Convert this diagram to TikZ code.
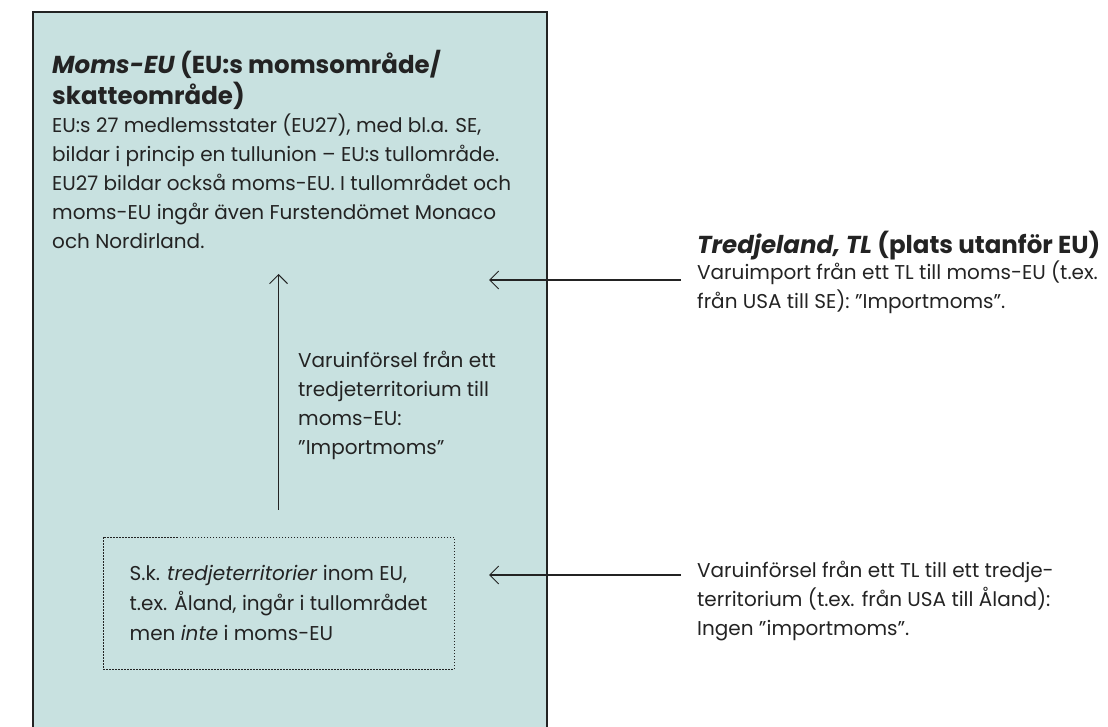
\documentclass[tikz,border=0pt]{standalone}
\usepackage{fontspec}
\setmainfont{Poppins}
\usetikzlibrary{arrows.meta}
\definecolor{momsfill}{HTML}{C8E1E0}
\definecolor{ink}{HTML}{232323}
\tikzstyle{pil}=[-{Straight Barb[length=9pt,width=18pt,line width=1pt]},line width=1.1pt,draw=ink]
\tikzstyle{brodtext}=[anchor=north west,inner sep=0pt,align=left,text=ink,font=\fontsize{20}{29}\selectfont]
\tikzstyle{rubrik}=[anchor=north west,inner sep=0pt,align=left,text=ink,font=\fontsize{24.5}{31}\selectfont\bfseries]
\tikzstyle{prickbox}=[draw=ink,line width=1pt,dash pattern=on 1.5pt off 1.5pt,minimum width=351pt,minimum height=132pt,
  inner sep=0pt,align=left,text=ink,font=\fontsize{20}{30}\selectfont]

\begin{document}
\begin{tikzpicture}[x=1pt,y=-1pt]
\useasboundingbox (0,0) rectangle (1108,727);
% moms-EU
\fill[momsfill] (33,12) rectangle (547,727);
\draw[ink,line width=1.3pt] (33,727) -- (33,12) -- (547,12) -- (547,727);
\node[rubrik] (momshead) at (52,50) {\textit{Moms-EU} (EU:s momsområde/\\skatteområde)};
\node[brodtext] (momstext) at (52,114) {EU:s 27 medlemsstater (EU27), med bl.a. SE,\\
  bildar i princip en tullunion – EU:s tullområde.\\
  EU27 bildar också moms-EU. I tullområdet och\\
  moms-EU ingår även Furstendömet Monaco\\
  och Nordirland.};
% tredjeterritorier
\node[prickbox] (tredjeterr) at (278.5,603) {S.k. \textit{tredjeterritorier} inom EU,\\t.ex. Åland, ingår i tullområdet\\men \textit{inte} i moms-EU};
\coordinate (momsin) at (278.5,274);
\draw[pil,shorten <=27pt] (tredjeterr.north) -- (momsin);
\node[brodtext] (inforsel) at (298,351) {Varuinförsel från ett\\tredjeterritorium till\\moms-EU:\\”Importmoms”};
% tredjeland
\node[rubrik] (tlhead) at (697,231) {\textit{Tredjeland, TL} (plats utanför EU)};
\node[brodtext] (tltext) at (697,261) {Varuimport från ett TL till moms-EU (t.ex.\\från USA till SE): ”Importmoms”.};
\coordinate (tlut) at (681,280);
\coordinate (tlin) at (489,280);
\draw[pil] (tlut) -- (tlin);
\node[brodtext] (tttext) at (697,561) {Varuinförsel från ett TL till ett tredje-\\territorium (t.ex. från USA till Åland):\\Ingen ”importmoms”.};
\coordinate (ttut) at (681,575);
\coordinate (ttin) at (489,575);
\draw[pil] (ttut) -- (ttin);
\end{tikzpicture}
\end{document}
